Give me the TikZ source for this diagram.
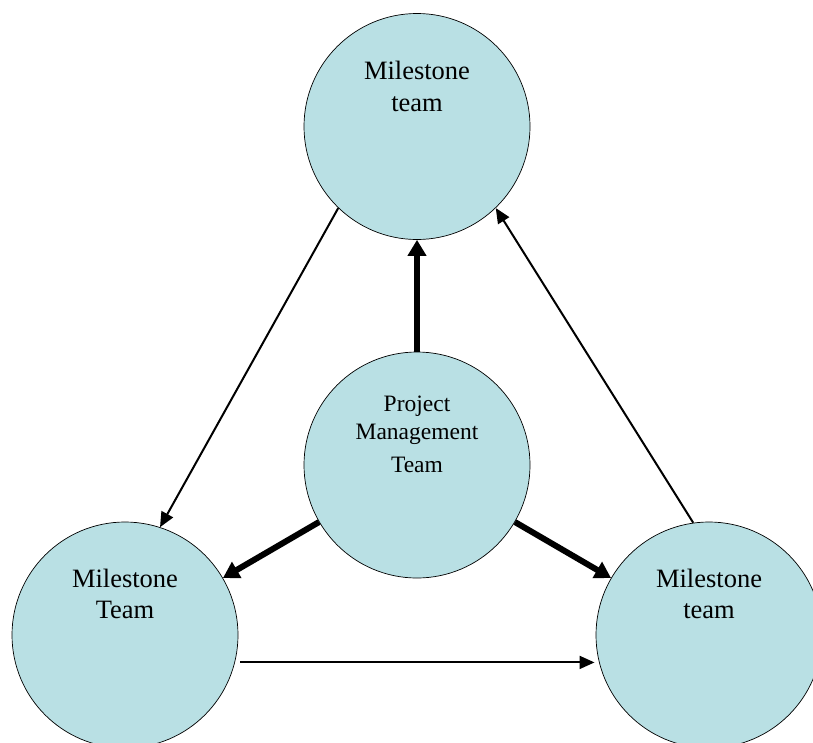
\documentclass[tikz,border=0pt]{standalone}
\usepackage{fontspec}
\setmainfont{Liberation Serif}
\usetikzlibrary{arrows.meta, positioning}
\definecolor{teamblue}{RGB}{185,224,228}

\begin{document}
\begin{tikzpicture} [
            x=1pt, y=-1pt,
            team/.style      = { circle, draw=black, line width=0.7pt, fill=teamblue,
                                 minimum size=226pt, inner sep=0pt },
            teamtext/.style  = { align=center, inner sep=0pt,
                                 font=\fontsize{26.5}{31.5}\selectfont },
            pmtext/.style    = { align=center, inner sep=0pt,
                                 font=\fontsize{23.5}{30}\selectfont },
            line/.style      = { draw, line width=2pt,
                                 -{Triangle[length=15pt, width=13pt]} },
            thickline/.style = { draw, line width=6pt,
                                 -{Triangle[length=16pt, width=18pt]} },
          ]
          \useasboundingbox (0,0) rectangle (813,742);

          \node (mst) [team] at (417,126.5) {};
          \node (pmt) [team] at (417,465) {};
          \node (msl) [team] at (125,635) {};
          \node (msr) [team] at (709,635) {};

          \node (msttext) [teamtext, below=48pt of mst.north] {Milestone\\team};
          \node (pmttext) [pmtext, below=44pt of pmt.north] {Project\\[-2pt]Management\\[3pt]Team};
          \node (msltext) [teamtext, below=47pt of msl.north] {Milestone\\Team};
          \node (msrtext) [teamtext, below=47pt of msr.north] {Milestone\\team};

            \draw [thickline] (pmt) -- (mst);
            \draw [thickline] (pmt) -- (msl);
            \draw [thickline] (pmt) -- (msr);
            \draw [line] (mst.226) -- (msl.72);
            \draw [line] (msr.98) -- (mst.314);
            \draw [line, shorten <=5.5pt, shorten >=4.5pt] (msl.-14.4) -- (msr.194.4);
        \end{tikzpicture}
\end{document}
